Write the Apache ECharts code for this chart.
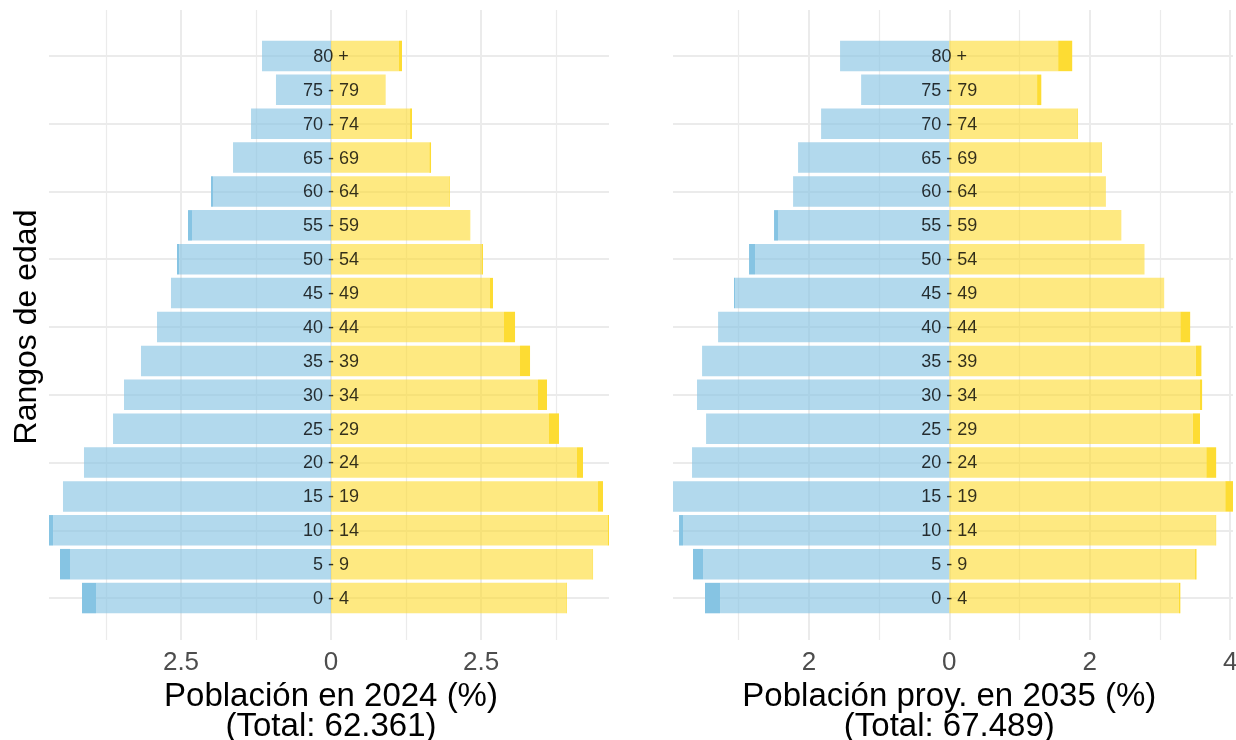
<!DOCTYPE html>
<html>
<head>
<meta charset="utf-8">
<script src="https://cdn.jsdelivr.net/npm/echarts@6/dist/echarts.min.js"></script>
<style>
  html, body { margin: 0; padding: 0; background: #fff; }
  #chart { width: 1236px; height: 740px; }
</style>
</head>
<body>
<div id="chart"></div>
<script>
// rangos de edad, de abajo hacia arriba
const ageGroups = ['0 - 4', '5 - 9', '10 - 14', '15 - 19', '20 - 24', '25 - 29', '30 - 34', '35 - 39',
  '40 - 44', '45 - 49', '50 - 54', '55 - 59', '60 - 64', '65 - 69', '70 - 74', '75 - 79', '80 +'];

// 2024: % total y % parte clara (la parte oscura es la diferencia)
const hombres2024 = [4.15, 4.517, 4.70, 4.467, 4.117, 3.633, 3.45, 3.167, 2.90, 2.667, 2.567, 2.383, 2.00, 1.633, 1.333, 0.917, 1.15];
const hombres2024Base = [3.917, 4.35, 4.633, 4.467, 4.117, 3.633, 3.45, 3.167, 2.90, 2.667, 2.533, 2.317, 1.967, 1.633, 1.333, 0.917, 1.15];
const mujeres2024 = [3.933, 4.367, 4.633, 4.533, 4.20, 3.80, 3.60, 3.317, 3.067, 2.70, 2.533, 2.32, 1.983, 1.667, 1.35, 0.911, 1.183];
const mujeres2024Base = [3.922, 4.356, 4.61, 4.45, 4.10, 3.633, 3.45, 3.15, 2.883, 2.65, 2.517, 2.311, 1.972, 1.639, 1.317, 0.911, 1.133];

// 2035 (proyección)
const hombres2035 = [3.479, 3.65, 3.849, 3.935, 3.664, 3.464, 3.593, 3.521, 3.293, 3.066, 2.852, 2.496, 2.225, 2.154, 1.826, 1.256, 1.556];
const hombres2035Base = [3.265, 3.507, 3.792, 3.935, 3.664, 3.464, 3.593, 3.521, 3.293, 3.05, 2.767, 2.439, 2.225, 2.154, 1.826, 1.256, 1.556];
const mujeres2035 = [3.29, 3.52, 3.80, 4.04, 3.80, 3.57, 3.60, 3.59, 3.43, 3.06, 2.78, 2.45, 2.23, 2.17, 1.83, 1.31, 1.75];
const mujeres2035Base = [3.27, 3.50, 3.79, 3.93, 3.66, 3.47, 3.57, 3.51, 3.29, 3.06, 2.78, 2.45, 2.23, 2.16, 1.82, 1.25, 1.55];

const title2024 = 'Población en 2024 (%)\n(Total: 62.361)';
const title2035 = 'Población proy. en 2035 (%)\n(Total: 67.489)';

const FONT = 'Liberation Sans';
const GRID = '#EBEBEB';
const BLUE = '#86C4E3', BLUE_LIGHT = 'rgba(134,196,227,0.64)';
const YELLOW = '#FDDC33', YELLOW_LIGHT = 'rgba(253,220,51,0.62)';

// paneles: rango x de las barras y rango x de la rejilla de fondo
const panels = [
  { left: 49, width: 560, min: -4.7, max: 4.633, bgMin: -5, bgMax: 5, step: 2.5, name: title2024, hide: [-5, 5] },
  { left: 673, width: 560, min: -3.935, max: 4.04, bgMin: -4, bgMax: 4, step: 2, name: title2035, hide: [-4] }
];
const barTop = 39, barHeight = 576;   // zona de las barras
const bgTop = 10, bgHeight = 630;     // zona de la rejilla vertical

const grids = [], xAxes = [], yAxes = [];
panels.forEach((p, i) => {
  const ppu = p.width / (p.max - p.min);
  // rejilla de fondo (líneas verticales, etiquetas y título del eje x)
  grids.push({
    left: p.left + (p.bgMin - p.min) * ppu, width: (p.bgMax - p.bgMin) * ppu,
    top: bgTop, height: bgHeight, outerBoundsMode: 'none'
  });
  const nTicks = Math.round((p.bgMax - p.bgMin) / p.step) + 1;
  const tickColors = [];
  for (let k = 0; k < nTicks; k++) {
    const v = p.bgMin + k * p.step;
    tickColors.push(p.hide.includes(v) ? 'rgba(0,0,0,0)' : GRID);
  }
  xAxes.push({
    type: 'value', gridIndex: i * 2, min: p.bgMin, max: p.bgMax, interval: p.step,
    axisLine: { show: false }, axisTick: { show: false },
    axisLabel: {
      color: '#4D4D4D', fontSize: 26, fontFamily: FONT, margin: 10,
      formatter: v => (p.hide.includes(v) ? '' : String(Math.abs(v)))
    },
    splitLine: { show: true, lineStyle: { color: tickColors, width: 2 } },
    minorTick: { show: false, splitNumber: 2 },
    minorSplitLine: { show: true, lineStyle: { color: GRID, width: 1.2 } },
    name: p.name, nameLocation: 'middle', nameGap: 41,
    nameTextStyle: { color: '#000', fontSize: 33, fontFamily: FONT, lineHeight: 30 }
  });
  yAxes.push({ type: 'value', gridIndex: i * 2, min: 0, max: 1, show: false });

  // barras
  grids.push({ left: p.left, width: p.width, top: barTop, height: barHeight, outerBoundsMode: 'none' });
  xAxes.push({ type: 'value', gridIndex: i * 2 + 1, min: p.min, max: p.max, show: false });
  yAxes.push({
    type: 'category', gridIndex: i * 2 + 1, data: ageGroups,
    axisLine: { show: false }, axisTick: { show: false }, axisLabel: { show: false },
    splitLine: {
      show: true, alignWithLabel: true,
      interval: idx => idx % 2 === 0,
      lineStyle: { color: GRID, width: 2 }
    },
    name: i === 0 ? 'Rangos de edad' : '', nameLocation: 'middle', nameRotate: 90, nameGap: 6,
    nameTextStyle: { color: '#000', fontSize: 32, fontFamily: FONT }
  });
});

function panelSeries(axisIdx, hTot, hBase, mTot, mBase) {
  const common = { type: 'bar', xAxisIndex: axisIdx, yAxisIndex: axisIdx, barWidth: '90%', barGap: '-100%', silent: true };
  return [
    { ...common, stack: 'h' + axisIdx, data: hBase.map(v => -v), itemStyle: { color: BLUE_LIGHT } },
    { ...common, stack: 'h' + axisIdx, data: hTot.map((v, k) => -(v - hBase[k])), itemStyle: { color: BLUE } },
    { ...common, stack: 'm' + axisIdx, data: mBase, itemStyle: { color: YELLOW_LIGHT } },
    { ...common, stack: 'm' + axisIdx, data: mTot.map((v, k) => v - mBase[k]), itemStyle: { color: YELLOW } },
    {
      type: 'scatter', xAxisIndex: axisIdx, yAxisIndex: axisIdx, z: 10, silent: true,
      symbolSize: 1, itemStyle: { color: 'rgba(0,0,0,0)' },
      data: ageGroups.map(g => [0, g]),
      label: {
        show: true, position: 'inside', color: '#000', fontSize: 18, fontFamily: FONT,
        offset: [0, 1],
        formatter: prm => prm.value[1]
      }
    }
  ];
}

const chart = echarts.init(document.getElementById('chart'), null, { renderer: 'canvas' });
chart.setOption({
  animation: false,
  backgroundColor: '#fff',
  textStyle: { fontFamily: FONT },
  grid: grids,
  xAxis: xAxes,
  yAxis: yAxes,
  series: [
    ...panelSeries(1, hombres2024, hombres2024Base, mujeres2024, mujeres2024Base),
    ...panelSeries(3, hombres2035, hombres2035Base, mujeres2035, mujeres2035Base)
  ]
});
</script>
</body>
</html>
